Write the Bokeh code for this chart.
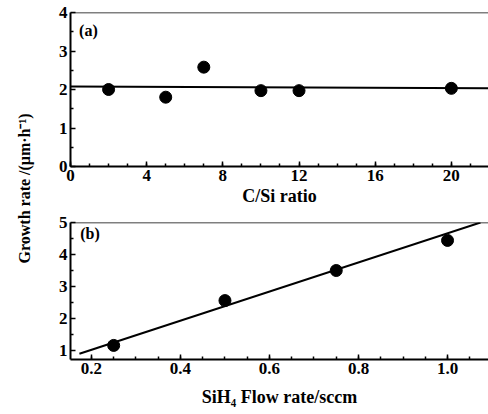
import math
from bokeh.plotting import figure
from bokeh.models import Range1d, Span, Label, FixedTicker, PrintfTickFormatter
from bokeh.layouts import row, column
from bokeh.embed import file_html
from bokeh.resources import INLINE

# ---- data (a): growth rate vs C/Si ratio ----
csi_ratio = [2, 5, 7, 10, 12, 20]
rate_a = [2.00, 1.80, 2.58, 1.97, 1.97, 2.03]
fit_a_x = [0, 22.5]
fit_a_y = [2.08, 2.03]

# ---- data (b): growth rate vs SiH4 flow rate ----
flow = [0.25, 0.50, 0.75, 1.00]
rate_b = [1.16, 2.56, 3.50, 4.44]
fit_b_x = [0.173, 1.074]
fit_b_y = [0.90, 5.00]

xticks_a = [0, 4, 8, 12, 16, 20]
yticks_a = [0, 1, 2, 3, 4]
xticks_b = [0.2, 0.4, 0.6, 0.8, 1.0]
yticks_b = [1, 2, 3, 4, 5]

FONT = "Liberation Serif"
TICK_FS = "17px"
LABEL_FS = "18px"


def style(p, xticks, yticks, xminor, yminor):
    p.outline_line_color = None
    p.background_fill_color = "white"
    p.border_fill_color = "white"
    p.grid.visible = False
    for ax in (p.xaxis[0], p.yaxis[0]):
        ax.axis_line_color = "black"
        ax.axis_line_width = 2
        ax.major_tick_in = 5
        ax.major_tick_out = 0
        ax.minor_tick_in = 3
        ax.minor_tick_out = 0
        ax.major_tick_line_width = 1.5
        ax.minor_tick_line_width = 1.5
        ax.major_tick_line_color = "black"
        ax.minor_tick_line_color = "black"
        ax.major_label_text_font = FONT
        ax.major_label_text_font_style = "bold"
        ax.major_label_text_font_size = TICK_FS
        ax.major_label_text_color = "black"
        ax.axis_label_text_font = FONT
        ax.axis_label_text_font_style = "bold"
        ax.axis_label_text_font_size = LABEL_FS
        ax.axis_label_text_color = "black"
    p.xaxis[0].ticker = FixedTicker(ticks=xticks, minor_ticks=xminor)
    p.yaxis[0].ticker = FixedTicker(ticks=yticks, minor_ticks=yminor)
    p.xaxis[0].major_label_standoff = 3
    p.yaxis[0].major_label_standoff = 3
    p.add_layout(Span(location=p.y_range.end, dimension="width",
                      line_color="black", line_width=1.5))


# ---- panel (a) ----
pa = figure(width=450, height=211, output_backend="svg", toolbar_location=None,
            x_range=Range1d(0, 21.95), y_range=Range1d(0, 4),
            min_border_left=32, min_border_right=0, min_border_top=12,
            min_border_bottom=45)
pa.line(fit_a_x, fit_a_y, line_color="black", line_width=2)
pa.scatter(csi_ratio, rate_a, size=12, color="black")
style(pa, xticks_a, yticks_a,
      [float(v) for v in range(0, 22)], [0.5, 1.5, 2.5, 3.5])
pa.xaxis[0].axis_label = "C/Si ratio"
pa.xaxis[0].axis_label_standoff = 2
pa.add_layout(Label(x=0.45, y=3.53, text="(a)", text_font=FONT,
                    text_font_style="bold", text_font_size="16px",
                    text_color="black",
                    text_baseline="middle", text_align="left"))

# ---- panel (b) ----
pb = figure(width=450, height=203, output_backend="svg", toolbar_location=None,
            x_range=Range1d(0.153, 1.092), y_range=Range1d(0.72, 5),
            min_border_left=32, min_border_right=0, min_border_top=11,
            min_border_bottom=55)
pb.line(fit_b_x, fit_b_y, line_color="black", line_width=2)
pb.scatter(flow, rate_b, size=12, color="black")
style(pb, xticks_b, yticks_b,
      [0.15 + 0.05 * i for i in range(20)], [1.5, 2.5, 3.5, 4.5])
pb.xaxis[0].formatter = PrintfTickFormatter(format="%.1f")
pb.xaxis[0].axis_label = "SiH\u2084 Flow rate/sccm"
pb.xaxis[0].axis_label_standoff = 10
pb.add_layout(Label(x=0.175, y=4.66, text="(b)", text_font=FONT,
                    text_font_style="bold", text_font_size="16px",
                    text_color="black",
                    text_baseline="middle", text_align="left"))

# ---- shared y label ----
pl = figure(width=38, height=414, output_backend="svg", toolbar_location=None,
            x_range=Range1d(0, 1), y_range=Range1d(0, 1),
            min_border=0)
pl.axis.visible = False
pl.grid.visible = False
pl.outline_line_color = None
pl.add_layout(Label(x=0.62, y=0.546, angle=math.pi / 2,
                    text="Growth rate /(\u03bcm\u00b7h\u207b\u00b9)",
                    text_font=FONT, text_font_style="bold", text_font_size="16px",
                    text_color="black",
                    text_align="center", text_baseline="middle"))

layout = row(pl, column(pa, pb))
open("out.html", "w").write(file_html(layout, INLINE))
